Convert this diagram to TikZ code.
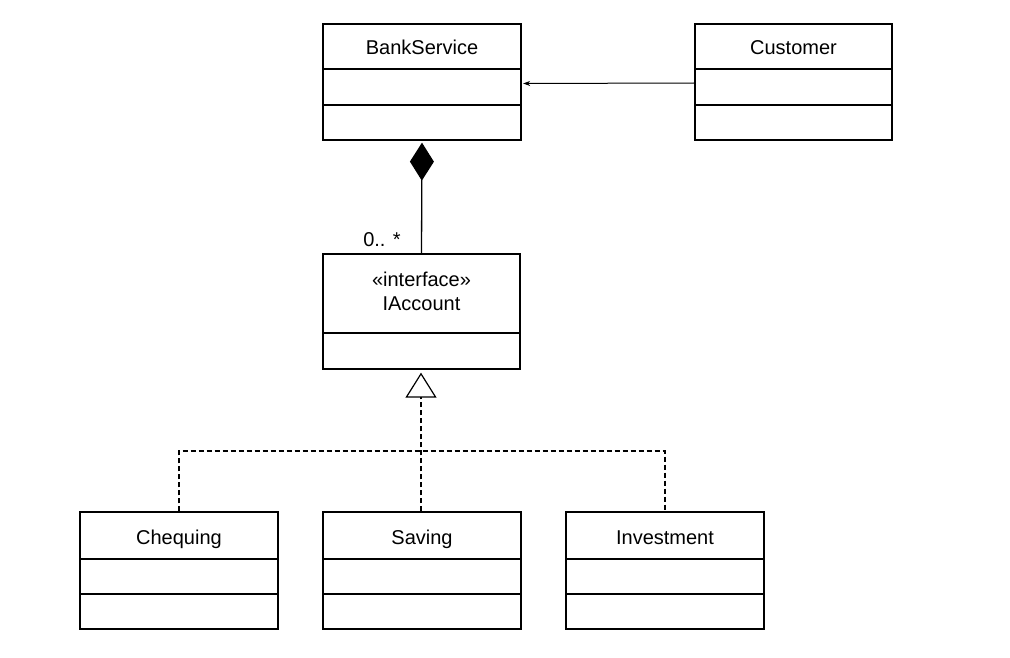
\documentclass[tikz,border=0pt]{standalone}
\usepackage{fontspec}
\setmainfont{Liberation Sans}
\usetikzlibrary{arrows.meta}
\begin{document}
\begin{tikzpicture}[x=1pt,y=-1pt,line width=1.3pt,
  umlbox/.style={draw,rectangle,minimum width=198pt,inner sep=0pt},
  lbl/.style={font=\fontsize{20}{24}\selectfont,anchor=base,inner sep=0pt},
  divider/.style={line width=1.3pt},
  realize/.style={dash pattern=on 5pt off 3pt,line width=1.1pt}]
\fill[white] (0,0) rectangle (1010,658);
\useasboundingbox (0,0) rectangle (1010,658);
% classes
\node[umlbox,minimum height=116pt] (bank) at (422,82) {};
\node[lbl] (bankt) at (422,55) {BankService};
\draw[divider] (bank.west |- 0,69) -- (bank.east |- 0,69);
\draw[divider] (bank.west |- 0,105) -- (bank.east |- 0,105);

\node[umlbox,minimum height=116pt,minimum width=197pt] (cust) at (793.5,82) {};
\node[lbl] (custt) at (793.5,55) {Customer};
\draw[divider] (cust.west |- 0,69) -- (cust.east |- 0,69);
\draw[divider] (cust.west |- 0,105) -- (cust.east |- 0,105);

\node[umlbox,minimum height=115pt,minimum width=197pt] (iacc) at (421.5,311.5) {};
\node[lbl] (iacct1) at (421.5,286) {«interface»};
\node[lbl] (iacct2) at (421.5,310.5) {IAccount};
\draw[divider] (iacc.west |- 0,333) -- (iacc.east |- 0,333);

\node[umlbox,minimum height=117pt] (chq) at (179,570.5) {};
\node[lbl] (chqt) at (179,544) {Chequing};
\draw[divider] (chq.west |- 0,559) -- (chq.east |- 0,559);
\draw[divider] (chq.west |- 0,594) -- (chq.east |- 0,594);

\node[umlbox,minimum height=117pt] (sav) at (422,570.5) {};
\node[lbl] (savt) at (422,544) {Saving};
\draw[divider] (sav.west |- 0,559) -- (sav.east |- 0,559);
\draw[divider] (sav.west |- 0,594) -- (sav.east |- 0,594);

\node[umlbox,minimum height=117pt] (inv) at (665,570.5) {};
\node[lbl] (invt) at (665,544) {Investment};
\draw[divider] (inv.west |- 0,559) -- (inv.east |- 0,559);
\draw[divider] (inv.west |- 0,594) -- (inv.east |- 0,594);

% association Customer -> BankService
\draw[line width=1pt,-{Stealth[length=7pt,width=5pt]},shorten >=1.5pt] (cust.west |- 0,83) -- (bank.east |- 0,83.5);

% composition
\draw[line width=1.3pt,-{Diamond[length=38pt,width=24pt]},shorten >=2pt] (iacc.north) -- (bank.south);
\node[lbl] (mult) at (382,246) {0.. *};

% realization
\coordinate (jn) at (421,451);
\draw[realize] (chq.north) |- (jn) -| (inv.north);
\draw[realize,-{Triangle[open,length=25pt,width=31pt,line width=1.2pt]},shorten >=3pt] (sav.north -| jn) -- (iacc.south -| jn);
\end{tikzpicture}
\end{document}
